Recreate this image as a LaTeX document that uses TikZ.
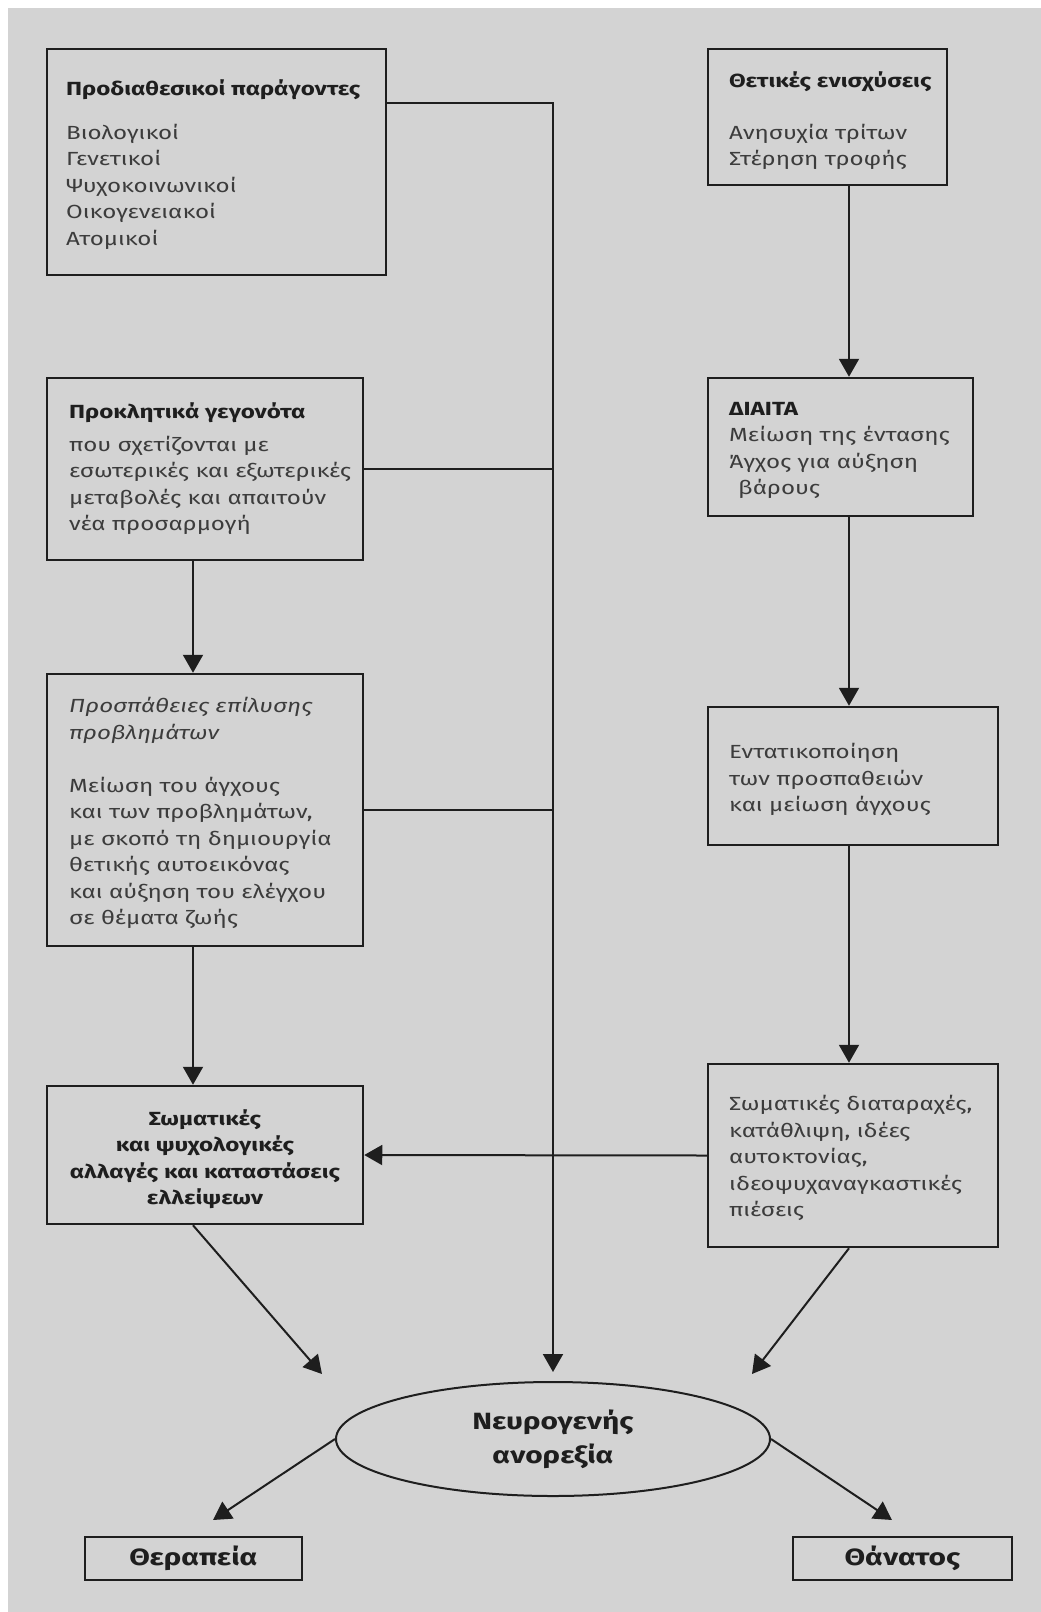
\documentclass[tikz,border=0pt]{standalone}
\usepackage{fontspec}
\setmainfont{Fira Sans}[FakeStretch=1.27]
\usetikzlibrary{arrows.meta,shapes.geometric}
\definecolor{bgc}{RGB}{211,211,211}
\definecolor{ink}{RGB}{30,30,30}
\definecolor{txt}{RGB}{60,60,60}
\tikzset{
  box/.style={draw=ink,line width=2.5pt,rectangle,inner sep=0pt},
  conn/.style={draw=ink,line width=2pt},
  arr/.style={conn,-{Triangle[width=20pt,length=18pt]}},
  body/.style={anchor=north west,inner sep=0pt,align=left,text=txt,font=\fontsize{19}{26.5}\selectfont},
  bodyc/.style={anchor=north,inner sep=0pt,align=center,text=ink,font=\bfseries\fontsize{19}{26.5}\selectfont},
  big/.style={inner sep=0pt,align=center,text=ink,font=\bfseries\fontsize{23.5}{34}\selectfont},
}
\begin{document}
\begin{tikzpicture}[x=1pt,y=-1pt]
\useasboundingbox (0,0) rectangle (1041,1612);
\fill[bgc] (8,8) rectangle (1041,1612);
% boxes
\node[box,minimum width=339pt,minimum height=226pt] (b1) at (216.5,162) {};
\node[box,minimum width=239pt,minimum height=136pt] (b2) at (827.5,117) {};
\node[box,minimum width=316pt,minimum height=182pt] (b3) at (205,469) {};
\node[box,minimum width=265pt,minimum height=138pt] (b4) at (840.5,447) {};
\node[box,minimum width=316pt,minimum height=272pt] (b5) at (205,810) {};
\node[box,minimum width=290pt,minimum height=138pt] (b6) at (853,776) {};
\node[box,minimum width=316pt,minimum height=138pt] (b7) at (205,1155) {};
\node[box,minimum width=290pt,minimum height=183pt] (b8) at (853,1155.5) {};
\node[draw=ink,line width=2pt,ellipse,minimum width=434pt,minimum height=114pt,inner sep=0pt] (ell) at (553,1439) {};
\node[box,minimum width=217pt,minimum height=43pt] (b9) at (193.5,1558.5) {};
\node[box,minimum width=219pt,minimum height=43pt] (b10) at (902.5,1558.5) {};
% texts
\node[body] (t1) at (66,79) {\textbf{\color{ink}Προδιαθεσικοί παράγοντες}\\[17.5pt]Βιολογικοί\\Γενετικοί\\Ψυχοκοινωνικοί\\Οικογενειακοί\\Ατομικοί};
\node[body] (t2) at (729,71) {\textbf{\color{ink}Θετικές ενισχύσεις}\\[25.5pt]Ανησυχία τρίτων\\Στέρηση τροφής};
\node[body] (t3) at (69,402) {\textbf{\color{ink}Προκλητικά γεγονότα}\\[6.5pt]που σχετίζονται με\\εσωτερικές και εξωτερικές\\μεταβολές και απαιτούν\\νέα προσαρμογή};
\node[body] (t4) at (729,402) {\textbf{\color{ink}ΔΙΑΙΤΑ}\\Μείωση της έντασης\\Άγχος για αύξηση\\\hspace*{9pt}βάρους};
\node[body] (t5) at (69,697) {\textit{Προσπάθειες επίλυσης}\\\textit{προβλημάτων}\\[26.5pt]Μείωση του άγχους\\και των προβλημάτων,\\με σκοπό τη δημιουργία\\θετικής αυτοεικόνας\\και αύξηση του ελέγχου\\σε θέματα ζωής};
\node[body] (t6) at (729,743) {Εντατικοποίηση\\των προσπαθειών\\και μείωση άγχους};
\node[bodyc] (t7) at (205,1109) {Σωματικές\\και ψυχολογικές\\αλλαγές και καταστάσεις\\ελλείψεων};
\node[body] (t8) at (729,1095) {Σωματικές διαταραχές,\\κατάθλιψη, ιδέες\\αυτοκτονίας,\\ιδεοψυχαναγκαστικές\\πιέσεις};
\node[big] (t9) at (553,1439) {Νευρογενής\\ανορεξία};
\node[big] (t10) at (b9) {Θεραπεία};
\node[big] (t11) at (b10) {Θάνατος};
% helper coordinates
\coordinate (xl) at (193,0);
\coordinate (xr) at (849,0);
\coordinate (d1) at (322,1374);
\coordinate (d2) at (752,1374);
\coordinate (d3) at (213,1520);
\coordinate (d4) at (892,1520);
% connectors
\draw[arr,shorten >=9pt] ([yshift=-55pt]b1.north east) -| (ell.north);
\draw[conn] (b3.east) -- (b3.east -| ell.north);
\draw[conn] (b5.east) -- (b5.east -| ell.north);
\draw[arr] (b2.south -| xr) -- (b4.north -| xr);
\draw[arr] (b4.south -| xr) -- (b6.north -| xr);
\draw[arr] (b6.south -| xr) -- (b8.north -| xr);
\draw[arr] (b3.south -| xl) -- (b5.north -| xl);
\draw[arr] (b5.south -| xl) -- (b7.north -| xl);
\draw[arr] (b8.west) -- (b7.east);
\draw[arr] (b7.south -| xl) -- (d1);
\draw[arr] (b8.south -| xr) -- (d2);
\draw[arr] (ell.west) -- (d3);
\draw[arr] (ell.east) -- (d4);
\end{tikzpicture}
\end{document}
